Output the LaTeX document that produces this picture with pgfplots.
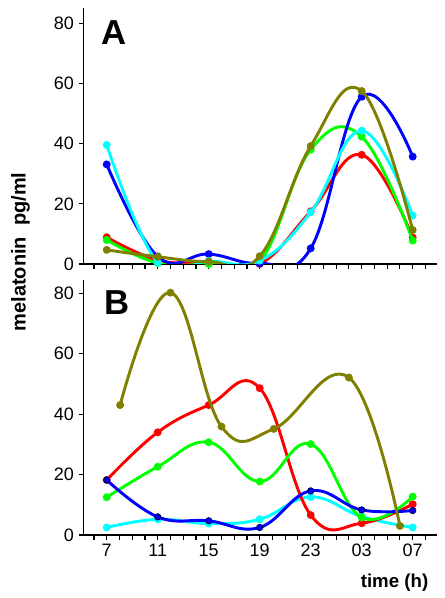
\documentclass[border=0pt]{standalone}
\usepackage{pgfplots}
\pgfplotsset{compat=1.18}
\usepackage{fontspec}
\setmainfont{Liberation Sans}
\definecolor{cblue}{RGB}{0,0,255}
\definecolor{cred}{RGB}{255,0,0}
\definecolor{cgreen}{RGB}{0,255,0}
\definecolor{ccyan}{RGB}{0,255,255}
\definecolor{colive}{RGB}{128,128,0}
\definecolor{cnavy}{RGB}{0,0,100}
\pgfplotsset{
  panel/.style={
    scale only axis, width=265pt,
    xmin=5.165, xmax=32.88, ymin=0,
    axis lines=left, axis line style={line width=0.8pt,-},
    tick align=outside, tick style={black,line width=0.8pt},
    major tick length=3.5pt, minor tick length=3.5pt,
    xtick={7,11,15,19,23,27,31},
    minor xtick={6,8,9,10,12,13,14,16,17,18,20,21,22,24,25,26,28,29,30,32},
    ytick={0,20,40,60,80},
    /pgf/number format/assume math mode=true,
    ticklabel style={font=\fontsize{13.5}{15}\selectfont},
    clip mode=individual,
    every axis plot/.append style={smooth, tension=0.7, line width=2.2pt, mark=*, mark size=1.8pt},
  },
}
\begin{document}
\begin{tikzpicture}
\path[use as bounding box] (-62.5pt,6pt) rectangle (270.5pt,-442.5pt);
% Panel A
\begin{axis}[panel, at={(0,0)}, anchor=north west, height=192pt, ymax=85.1, xticklabels={}]
\addplot[color=cred, mark options={fill=cred}] coordinates {(7,8.9) (11,1.3) (15,0.3) (19,0) (23,17.5) (27,36.3) (31,8.8)};
\addplot[color=cgreen, mark options={fill=cgreen}] coordinates {(7,8.0) (11,0.3) (15,0) (19,0.8) (23,38.0) (27,42.3) (31,7.8)};
\addplot[color=cblue, mark options={fill=cblue}] coordinates {(7,33.1) (11,2.5) (15,3.3) (19,0.2) (23,5.2) (27,55.6) (31,35.7)};
\addplot[color=ccyan, mark options={fill=ccyan}] coordinates {(7,39.6) (11,0.5) (15,1.0) (19,1.1) (23,17.2) (27,44.3) (31,16.1)};
\addplot[color=colive, mark options={fill=colive}] coordinates {(7,4.7) (11,2.4) (15,0.8) (19,2.6) (23,39.2) (27,57.5) (31,11.3)};
\end{axis}
% Panel B
\begin{axis}[panel, at={(0,-204pt)}, anchor=north west, height=191.25pt, ymax=84.4, xticklabels={7,11,15,19,23,03,07}]
\addplot[color=ccyan, mark options={fill=ccyan}] coordinates {(7,2.5) (11,5.2) (15,3.8) (19,5.2) (23,12.6) (27,6.1) (31,2.5)};
\addplot[color=cred, mark options={fill=cred}] coordinates {(7,18.2) (11,34.0) (15,43.0) (19,48.6) (23,6.6) (27,3.9) (31,10.2)};
\addplot[color=cgreen, mark options={fill=cgreen}] coordinates {(7,12.5) (11,22.6) (15,30.7) (19,17.7) (23,30.1) (27,5.8) (31,12.7)};
\addplot[color=cblue, mark options={fill=cblue, draw=cnavy, line width=0.8pt}, mark size=2.3pt] coordinates {(7,18.2) (11,6.0) (15,4.7) (19,2.5) (23,14.6) (27,8.3) (31,8.1)};
\addplot[color=colive, mark options={fill=colive}] coordinates {(8.05,43.0) (12.0,80.2) (16.0,35.9) (20.1,35.1) (26.0,52.1) (30.0,3.0)};
\end{axis}
\node[font=\fontsize{26}{30}\selectfont\bfseries] at (22.65pt,-18.4pt) {A};
\node[font=\fontsize{26}{30}\selectfont\bfseries] at (24.9pt,-220.9pt) {B};
\node[font=\fontsize{15}{17}\selectfont\bfseries, rotate=90] at (-47.1pt,-183pt) {melatonin\ \ pg/ml};
\node[font=\fontsize{14}{16}\selectfont\bfseries] at (233.4pt,-431.25pt) {time (h)};
\end{tikzpicture}
\end{document}
